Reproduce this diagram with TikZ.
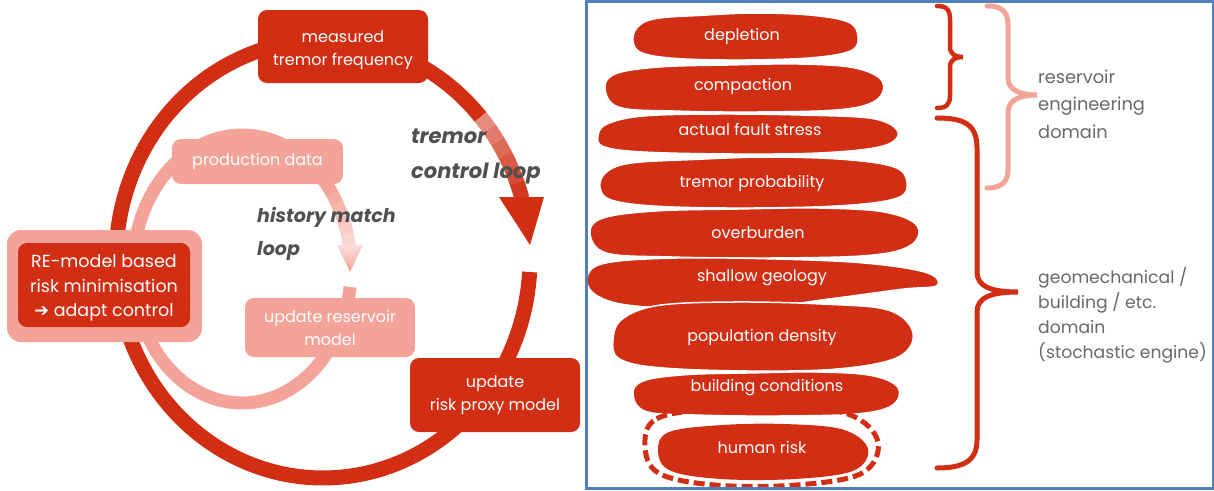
\documentclass[tikz,border=0pt]{standalone}
\usepackage{fontspec}
\setmainfont{Poppins}
\newfontfamily\arrowfont{DejaVu Sans}
\definecolor{fred}{RGB}{209,46,20}
\definecolor{fpink}{RGB}{244,163,152}
\definecolor{fgray}{RGB}{105,105,105}
\definecolor{floop}{RGB}{80,80,80}
\definecolor{fblue}{RGB}{79,129,189}
\newcommand\shpA{\fill[fred,draw=white,line width=1.5pt] plot[smooth cycle,tension=0.6] coordinates {(0,0.6) (0.02,0.3) (0.1,0.12) (0.3,0.05) (0.55,0.0) (0.8,0.05) (0.96,0.2) (1,0.5) (0.97,0.8) (0.8,0.95) (0.5,1) (0.2,0.97) (0.04,0.85)};}
\newcommand\shpB{\fill[fred,draw=white,line width=1.5pt] plot[smooth cycle,tension=0.6] coordinates {(0,0.5) (0.04,0.2) (0.2,0.06) (0.45,0.02) (0.7,0.0) (0.9,0.08) (1,0.35) (0.98,0.75) (0.85,0.95) (0.55,1) (0.25,0.98) (0.05,0.9)};}
\newcommand\shpC{\fill[fred,draw=white,line width=1.5pt] plot[smooth cycle,tension=0.6] coordinates {(0,0.55) (0.03,0.25) (0.15,0.05) (0.4,0.0) (0.7,0.03) (0.92,0.12) (1,0.45) (0.95,0.8) (0.75,0.97) (0.45,1) (0.15,0.95) (0.02,0.82)};}
\newcommand\shpD{\fill[fred,draw=white,line width=1.5pt] plot[smooth cycle,tension=0.6] coordinates {(0,0.4) (0.05,0.12) (0.25,0.02) (0.55,0.04) (0.8,0.12) (0.97,0.3) (1,0.55) (0.9,0.62) (0.7,0.8) (0.45,1) (0.15,0.95) (0.03,0.75)};}
\newcommand\shpE{\fill[fred] plot[smooth cycle,tension=0.6] coordinates {(0,0.5) (0.05,0.15) (0.3,0.02) (0.6,0.0) (0.88,0.1) (1,0.45) (0.93,0.85) (0.65,1) (0.3,1) (0.06,0.85)};}
\newcommand\blobat[5]{\begin{scope}[shift={(#1,#2)},xscale=#3,yscale=#4]#5\end{scope}}
\begin{document}
\begin{tikzpicture}[x=1pt,y=-1pt,
  box/.style={rounded corners=9pt, inner sep=0pt, align=center, text=white, font=\fontsize{16}{23}\selectfont},
  redbox/.style={box, fill=fred},
  pinkbox/.style={box, fill=fpink},
  boxtext/.style={inner sep=0pt, align=center, text=white, font=\fontsize{16}{23}\selectfont},
  bigloop/.style={line width=15pt, line cap=butt},
  lightloop/.style={line width=13pt, line cap=butt},
  blobtext/.style={text=white, inner sep=0pt, font=\fontsize{16}{20}\selectfont},
  looplabel/.style={text=floop, inner sep=0pt, align=left, font=\bfseries\itshape},
  sidelabel/.style={text=fgray, inner sep=0pt, align=left},
  brace/.style={line width=4.5pt, line cap=round, fill=none}]
\useasboundingbox (0,0) rectangle (1214,490);
\fill[white] (0,0) rectangle (1214,490);

% ---------- light (history match) loop ----------
\draw[lightloop, fpink] plot[domain=38.8:352.3, samples=120] ({242+109*cos(\x)}, {269-134*sin(\x)});
\foreach \i in {0,...,5}{
  \pgfmathsetmacro\a{38.8-\i*4.75}
  \pgfmathsetmacro\b{\a-4.95}
  \pgfmathtruncatemacro\p{100-\i*11}
  \draw[lightloop, color=fpink!\p!white] plot[domain=\b:\a, samples=8] ({242+109*cos(\x)}, {269-134*sin(\x)});
}
\coordinate (hmL) at (337,245);
\coordinate (hmR) at (363,245);
\coordinate (hmT) at (350,272);
\shade[top color=fpink!35!white, bottom color=fpink] (hmL) -- (hmR) -- (hmT) -- cycle;

% ---------- big (tremor control) loop ----------
\draw[bigloop, fred] plot[domain=40.4:356.6, samples=160] ({323+207*cos(\x)}, {259-219*sin(\x)});
\foreach \i in {0,...,5}{
  \pgfmathsetmacro\a{40.4-\i*4.03}
  \pgfmathsetmacro\b{\a-4.2}
  \pgfmathtruncatemacro\p{55+\i*8}
  \draw[bigloop, color=fred!\p!white] plot[domain=\b:\a, samples=8] ({323+207*cos(\x)}, {259-219*sin(\x)});
}
\coordinate (tcL) at (499,197);
\coordinate (tcR) at (544,197);
\coordinate (tcT) at (530,245);
\fill[fred] (tcL) -- (tcR) -- (tcT) -- cycle;

% ---------- boxes ----------
\node[redbox, minimum width=170pt, minimum height=73pt] (measured) at (343,46.5) {};
\node[boxtext] (measuredtext) at (343,50) {measured\\tremor frequency};
\node[pinkbox, minimum width=171pt, minimum height=45pt] (prod) at (257.5,161.5) {production data};
\node[pinkbox, rounded corners=14pt, minimum width=195pt, minimum height=112pt] (reouter) at (104.5,286) {};
\node[redbox, font=\fontsize{17.5}{24.5}\selectfont, minimum width=172pt, minimum height=84pt] (re) at (104,285) {};
\node[boxtext, font=\fontsize{17.5}{24.5}\selectfont] (retext) at (104,288) {RE-model based\\risk minimisation\\{\arrowfont ➔} adapt control};
\node[pinkbox, minimum width=170pt, minimum height=59pt] (updres) at (330,327.5) {update reservoir\\model};
\node[redbox, minimum width=170pt, minimum height=74pt] (updrisk) at (495,395) {update\\risk proxy model};

% ---------- loop labels ----------
\node[looplabel, anchor=base west, font=\bfseries\itshape\fontsize{21}{35}\selectfont] (tcl) at (411,178) {tremor\\control loop};
\node[looplabel, anchor=base west, font=\bfseries\itshape\fontsize{19}{33}\selectfont] (hml) at (257,255) {history match\\loop};

% ---------- right panel blobs ----------
\blobat{633}{13}{225}{47}{\shpA}
\blobat{605}{64}{277}{48}{\shpB}
\blobat{598}{114}{300}{40}{\shpC}
\blobat{600}{157}{307}{51}{\shpA}
\blobat{590}{208}{327}{50}{\shpB}
\blobat{587}{257}{350}{52}{\shpD}
\blobat{613}{302}{300}{69}{\shpC}
\blobat{633}{372}{265}{44}{\shpB}
\begin{scope}[shift={(645,407)},xscale=233,yscale=78]
  \draw[fred, line width=5pt, dash pattern=on 11pt off 5pt] plot[smooth cycle,tension=0.6] coordinates {(0,0.5) (0.05,0.15) (0.3,0.02) (0.6,0.0) (0.88,0.1) (1,0.45) (0.93,0.85) (0.65,1) (0.3,1) (0.06,0.85)};
\end{scope}
\blobat{658}{424}{210}{55}{\shpE}

\node[blobtext] (depletion) at (742,36) {depletion};
\node[blobtext] (compaction) at (743,86) {compaction};
\node[blobtext] (fault) at (750,129) {actual fault stress};
\node[blobtext] (tremprob) at (752,183) {tremor probability};
\node[blobtext] (overburden) at (758,233) {overburden};
\node[blobtext] (shallow) at (762,278) {shallow geology};
\node[blobtext] (popdens) at (762,337) {population density};
\node[blobtext] (building) at (767,388) {building conditions};
\node[blobtext] (human) at (762,447) {human risk};

% ---------- braces ----------
\draw[brace, fred] (937,6) .. controls (947,6) and (950,10) .. (950,20) -- (950,47) .. controls (950,54) and (955,57) .. (963,57) .. controls (955,57) and (950,60) .. (950,67) -- (950,95) .. controls (950,104) and (947,108) .. (937,108);
\draw[brace, fpink, line width=5pt] (987,6) .. controls (1000,6) and (1008,10) .. (1008,25) -- (1008,78) .. controls (1008,90) and (1020,95) .. (1037,95) .. controls (1020,95) and (1008,100) .. (1008,112) -- (1008,170) .. controls (1008,183) and (1000,188) .. (987,188);
\draw[brace, fred, line width=5pt] (937,118) .. controls (965,118) and (977,125) .. (977,148) -- (977,272) .. controls (977,286) and (990,292) .. (1018,292) .. controls (990,292) and (977,298) .. (977,312) -- (977,440) .. controls (977,460) and (965,468) .. (937,468);

\node[sidelabel, anchor=base west, font=\fontsize{17.8}{27.5}\selectfont] (redomain) at (1038,138) {reservoir\\engineering\\domain};
\node[sidelabel, anchor=base west, font=\fontsize{17.2}{25}\selectfont] (geodomain) at (1038,358) {geomechanical /\\building / etc.\\domain\\(stochastic engine)};

% ---------- panel frame ----------
\draw[fblue, line width=2.5pt] (586.25,1.5) rectangle (1212.75,488.5);
\end{tikzpicture}
\end{document}
